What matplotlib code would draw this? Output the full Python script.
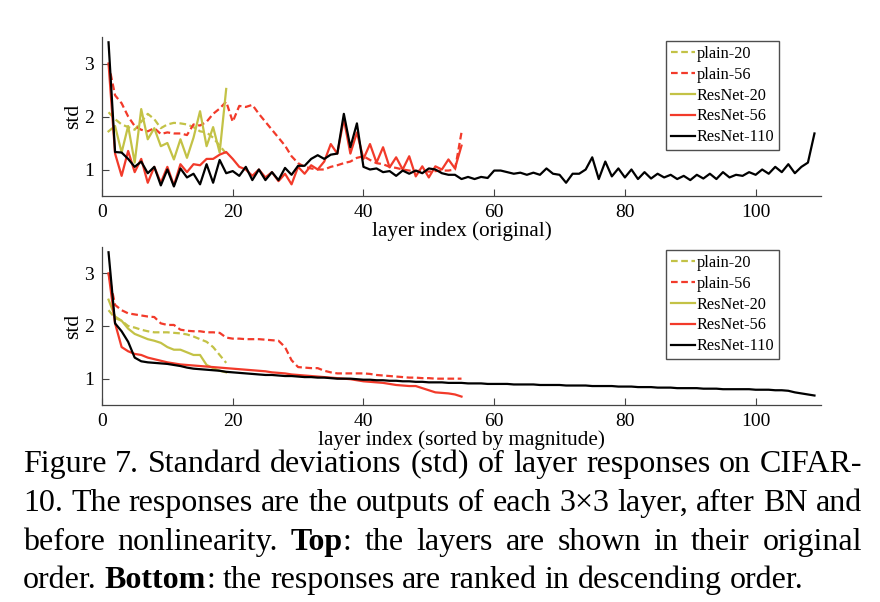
import matplotlib
matplotlib.use("Agg")
import matplotlib.pyplot as plt
import numpy as np

plt.rcParams['font.family'] = ['Liberation Serif', 'DejaVu Serif']
plt.rcParams['mathtext.fontset'] = 'stix'

# ---------------- data (top: original order) ----------------
plain20_top = [2.08, 1.95, 1.85, 1.80, 1.75, 1.90, 2.05, 1.95, 1.78, 1.85,
               1.88, 1.87, 1.85, 1.80, 1.72, 1.70, 1.60, 1.45, 1.30]
plain56_top = [3.00, 2.40, 2.25, 2.00, 1.82, 1.75, 1.72, 1.78, 1.67, 1.70,
               1.68, 1.68, 1.65, 1.85, 1.83, 1.90, 2.05, 2.15, 2.28, 1.90,
               2.20, 2.18, 2.22, 2.05, 1.90, 1.75, 1.60, 1.45, 1.25, 1.12,
               1.05, 1.02, 1.00, 1.00, 1.05, 1.08, 1.12, 1.15, 1.22, 1.25,
               1.18, 1.12, 1.10, 1.05, 1.03, 1.00, 0.98, 0.97, 0.98, 0.96,
               0.97, 0.98, 0.98, 1.00, 1.70]
resnet20_top = [1.72, 1.82, 1.32, 1.82, 1.13, 2.14, 1.57, 1.78, 1.44, 1.50,
                1.19, 1.57, 1.22, 1.60, 2.10, 1.44, 1.80, 1.32, 2.52]
resnet56_top = [3.00, 1.30, 0.88, 1.35, 0.95, 1.20, 0.75, 1.05, 0.75, 1.05,
                0.70, 1.10, 0.95, 1.10, 1.08, 1.20, 1.20, 1.28, 1.33, 1.20,
                1.05, 1.00, 0.88, 1.00, 0.85, 0.95, 0.78, 0.92, 0.72, 1.05,
                0.92, 1.08, 1.00, 1.15, 1.48, 1.30, 1.95, 1.30, 1.70, 1.20,
                1.48, 1.13, 1.42, 1.04, 1.23, 1.00, 1.25, 0.87, 1.06, 0.85,
                1.06, 1.00, 1.19, 1.02, 1.45]
resnet110_top = [3.40, 1.33, 1.32, 1.20, 1.05, 1.15, 0.93, 1.05, 0.70, 1.00,
                 0.68, 1.02, 0.85, 0.92, 0.72, 1.10, 0.75, 1.18, 0.93, 0.97,
                 0.88, 1.05, 0.80, 1.00, 0.80, 0.95, 0.80, 1.03, 0.90, 1.07,
                 1.07, 1.20, 1.27, 1.20, 1.28, 1.30, 2.05, 1.42, 1.87, 1.05,
                 1.00, 1.02, 0.95, 0.97, 0.88, 0.98, 0.92, 0.98, 0.93, 1.02,
                 1.00, 0.93, 0.90, 0.90, 0.82, 0.86, 0.82, 0.86, 0.84, 0.98,
                 0.98, 0.95, 0.92, 0.94, 0.90, 0.94, 0.90, 1.02, 0.92, 0.90,
                 0.75, 0.92, 0.92, 1.00, 1.23, 0.82, 1.15, 0.87, 1.02, 0.85,
                 1.00, 0.82, 0.95, 0.83, 0.92, 0.85, 0.90, 0.82, 0.88, 0.80,
                 0.90, 0.83, 0.92, 0.82, 0.95, 0.85, 0.90, 0.88, 0.95, 0.90,
                 1.00, 0.92, 1.05, 0.95, 1.10, 0.93, 1.05, 1.13, 1.68]

# ---------------- data (bottom: sorted by magnitude) ----------------
plain20_sorted = [2.30, 2.15, 2.10, 2.00, 1.97, 1.93, 1.90, 1.88, 1.88, 1.88,
                  1.87, 1.86, 1.84, 1.80, 1.75, 1.70, 1.60, 1.45, 1.30]
plain56_sorted = [3.00, 2.40, 2.30, 2.24, 2.22, 2.20, 2.18, 2.17, 2.05, 2.02,
                  2.02, 1.93, 1.91, 1.90, 1.90, 1.88, 1.88, 1.87, 1.78, 1.76,
                  1.76, 1.75, 1.75, 1.75, 1.74, 1.73, 1.72, 1.60, 1.35, 1.22,
                  1.21, 1.20, 1.20, 1.15, 1.12, 1.10, 1.10, 1.10, 1.10, 1.10,
                  1.09, 1.07, 1.06, 1.05, 1.04, 1.03, 1.02, 1.02, 1.01, 1.01,
                  1.00, 1.00, 1.00, 1.00, 1.00]
resnet20_sorted = [2.50, 2.18, 2.10, 1.95, 1.85, 1.80, 1.75, 1.72, 1.68, 1.60,
                   1.55, 1.55, 1.50, 1.45, 1.45, 1.26, 1.20, 1.15, 1.12]
resnet56_sorted = [3.00, 2.05, 1.60, 1.52, 1.47, 1.45, 1.40, 1.37, 1.34, 1.31,
                   1.29, 1.27, 1.26, 1.25, 1.24, 1.23, 1.22, 1.21, 1.20, 1.19,
                   1.18, 1.17, 1.16, 1.15, 1.14, 1.12, 1.11, 1.10, 1.08, 1.07,
                   1.06, 1.05, 1.04, 1.03, 1.02, 1.01, 1.00, 0.99, 0.97, 0.95,
                   0.94, 0.93, 0.92, 0.90, 0.88, 0.87, 0.86, 0.86, 0.82, 0.78,
                   0.74, 0.73, 0.72, 0.70, 0.66]
resnet110_sorted = [3.40, 2.05, 1.90, 1.70, 1.40, 1.33, 1.31, 1.30, 1.29, 1.28,
                    1.26, 1.24, 1.21, 1.19, 1.18, 1.17, 1.16, 1.15, 1.13, 1.12,
                    1.11, 1.10, 1.09, 1.08, 1.07, 1.07, 1.06, 1.05, 1.05, 1.04,
                    1.03, 1.03, 1.02, 1.02, 1.01, 1.00, 1.00, 1.00, 0.99, 0.98,
                    0.98, 0.97, 0.97, 0.96, 0.96, 0.95, 0.95, 0.94, 0.94, 0.93,
                    0.93, 0.93, 0.92, 0.92, 0.92, 0.91, 0.91, 0.91, 0.90, 0.90,
                    0.90, 0.90, 0.89, 0.89, 0.89, 0.89, 0.88, 0.88, 0.88, 0.88,
                    0.87, 0.87, 0.87, 0.87, 0.86, 0.86, 0.86, 0.86, 0.85, 0.85,
                    0.85, 0.84, 0.84, 0.84, 0.83, 0.83, 0.83, 0.82, 0.82, 0.82,
                    0.82, 0.81, 0.81, 0.81, 0.80, 0.80, 0.80, 0.80, 0.80, 0.79,
                    0.79, 0.79, 0.78, 0.78, 0.77, 0.74, 0.72, 0.70, 0.68]

series_names = ['plain-20', 'plain-56', 'ResNet-20', 'ResNet-56', 'ResNet-110']
x_ticks = [0, 20, 40, 60, 80, 100]
y_ticks = [1, 2, 3]

YEL = '#C3C246'
RED = '#F23A2A'
BLK = '#000000'
styles = [
    dict(color=YEL, ls=(0, (3, 1.6))),
    dict(color=RED, ls=(0, (3, 1.6))),
    dict(color=YEL, ls='-'),
    dict(color=RED, ls='-'),
    dict(color=BLK, ls='-'),
]

W, H = 880, 602
fig = plt.figure(figsize=(W / 100, H / 100), dpi=100)

def px_axes(l, t, r, b):
    return [l / W, 1 - b / H, (r - l) / W, (b - t) / H]

ax1 = fig.add_axes(px_axes(102, 37, 821, 196))
ax2 = fig.add_axes(px_axes(102, 247, 821, 405))

top_data = [plain20_top, plain56_top, resnet20_top, resnet56_top, resnet110_top]
bot_data = [plain20_sorted, plain56_sorted, resnet20_sorted, resnet56_sorted, resnet110_sorted]

for ax, data, xlabel, leg_top in [
        (ax1, top_data, 'layer index (original)', 41),
        (ax2, bot_data, 'layer index (sorted by magnitude)', 250)]:
    for name, vals, st in zip(series_names, data, styles):
        xs = np.arange(1, len(vals) + 1)
        ax.plot(xs, vals, lw=1.6, label=name, **st)
    ax.set_xlim(0, 110)
    ax.set_ylim(0.5, 3.5)
    ax.set_xticks(x_ticks)
    ax.set_yticks(y_ticks)
    for s in ['top', 'right']:
        ax.spines[s].set_visible(False)
    for s in ['left', 'bottom']:
        ax.spines[s].set_color('#444444')
        ax.spines[s].set_linewidth(0.9)
    ax.tick_params(direction='in', length=5, width=0.8, color='#444444',
                   labelsize=14, pad=6)
    ax.set_xlabel(xlabel, fontsize=15.2, labelpad=0)
    ax.set_ylabel('std', fontsize=15.5)
    ax.yaxis.set_label_coords(-0.026, 0.5)
    ax.patch.set_alpha(0)
    leg = ax.legend(loc='upper left',
                    bbox_to_anchor=(666 / W, 1 - leg_top / H),
                    bbox_transform=fig.transFigure,
                    fontsize=11.7, frameon=True, fancybox=False,
                    handlelength=1.5, handletextpad=0.1, borderpad=0.3,
                    labelspacing=0.3, borderaxespad=0)
    leg.get_frame().set_edgecolor('#222222')
    leg.get_frame().set_linewidth(1.0)

# ---------------- justified caption ----------------
caption_lines = [
    [[('Figure', 0)], [('7.', 0)], [('Standard', 0)], [('deviations', 0)], [('(std)', 0)],
     [('of', 0)], [('layer', 0)], [('responses', 0)], [('on', 0)], [('CIFAR-', 0)]],
    [[('10.', 0)], [('The', 0)], [('responses', 0)], [('are', 0)], [('the', 0)], [('outputs', 0)],
     [('of', 0)], [('each', 0)], [('3×3', 0)], [('layer,', 0)], [('after', 0)], [('BN', 0)], [('and', 0)]],
    [[('before', 0)], [('nonlinearity.', 0)], [('Top', 1), (':', 0)], [('the', 0)], [('layers', 0)],
     [('are', 0)], [('shown', 0)], [('in', 0)], [('their', 0)], [('original', 0)]],
    [[('order.', 0)], [('Bottom', 1), (':', 0)], [('the', 0)], [('responses', 0)], [('are', 0)],
     [('ranked', 0)], [('in', 0)], [('descending', 0)], [('order.', 0)]],
]
baselines = [472, 511, 550, 588]
cap_left, cap_right = 23, 862
cap_fs = 23

renderer = fig.canvas.get_renderer()

def measure(s, bold):
    t = fig.text(0, 0, s, fontsize=cap_fs, fontweight='bold' if bold else 'normal')
    w = t.get_window_extent(renderer).width
    t.remove()
    return w

space_w = measure('a b', 0) - measure('ab', 0)

for li, (words, base) in enumerate(zip(caption_lines, baselines)):
    widths = []
    for word in words:
        widths.append(sum(measure(s, b) for s, b in word))
    last = (li == len(caption_lines) - 1)
    if last:
        gap = space_w
    else:
        gap = (cap_right - cap_left - sum(widths)) / (len(words) - 1)
    x = cap_left
    for word, wd in zip(words, widths):
        xx = x
        for s, b in word:
            fig.text(xx / W, 1 - base / H, s, fontsize=cap_fs,
                     fontweight='bold' if b else 'normal', va='baseline', ha='left')
            xx += measure(s, b)
        x += wd + gap

fig.savefig('out.png', dpi=100)
